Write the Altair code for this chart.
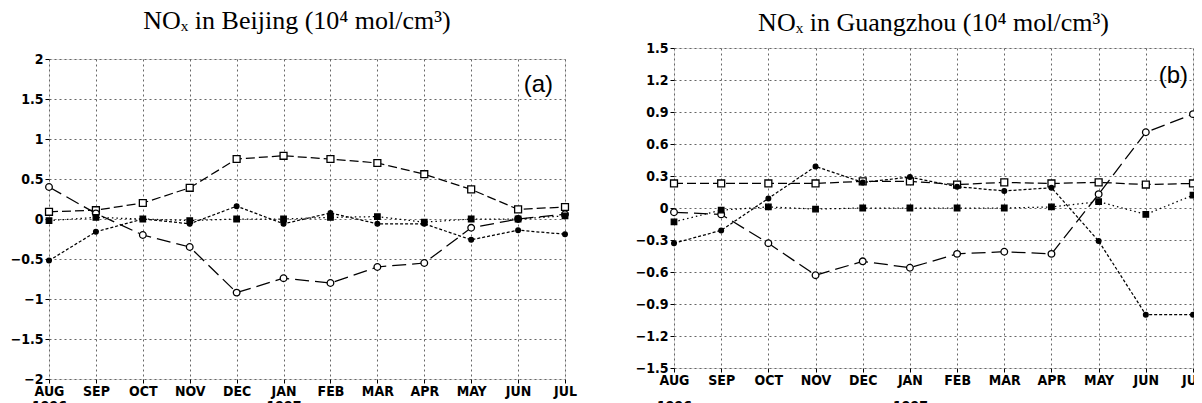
import altair as alt
import pandas as pd

months = ["AUG", "SEP", "OCT", "NOV", "DEC", "JAN", "FEB", "MAR", "APR", "MAY", "JUN", "JUL"]
years = {"AUG": "1996", "JAN": "1997"}

# Beijing
bj_open_sq = [0.09, 0.11, 0.20, 0.39, 0.75, 0.79, 0.75, 0.70, 0.56, 0.37, 0.12, 0.15]
bj_open_ci = [0.40, 0.07, -0.20, -0.35, -0.92, -0.74, -0.80, -0.60, -0.55, -0.11, 0.00, 0.06]
bj_fill_ci = [-0.52, -0.16, 0.00, -0.06, 0.16, -0.06, 0.075, -0.06, -0.06, -0.26, -0.14, -0.19]
bj_fill_sq = [-0.02, 0.02, 0.00, -0.02, 0.00, 0.00, 0.02, 0.03, -0.04, 0.00, 0.00, 0.04]

# Guangzhou
gz_open_sq = [0.23, 0.23, 0.23, 0.23, 0.25, 0.25, 0.22, 0.24, 0.23, 0.24, 0.22, 0.23]
gz_open_ci = [-0.04, -0.06, -0.33, -0.63, -0.50, -0.56, -0.43, -0.41, -0.43, 0.13, 0.71, 0.88]
gz_fill_ci = [-0.33, -0.21, 0.09, 0.39, 0.24, 0.29, 0.20, 0.16, 0.19, -0.31, -1.00, -1.00]
gz_fill_sq = [-0.13, -0.02, 0.01, -0.01, 0.00, 0.00, 0.00, 0.00, 0.01, 0.06, -0.06, 0.12]

bj_ticks = [-2, -1.5, -1, -0.5, 0, 0.5, 1, 1.5, 2]
gz_ticks = [-1.5, -1.2, -0.9, -0.6, -0.3, 0, 0.3, 0.6, 0.9, 1.2, 1.5]

bj_title = "NOₓ in Beijing (10⁴ mol/cm³)"
gz_title = "NOₓ in Guangzhou (10⁴ mol/cm³)"

AXFONT = "DejaVu Sans Condensed"

styles = {
    "open_sq": dict(shape="square", fill="white", size=48, dash=[9, 4]),
    "open_ci": dict(shape="circle", fill="white", size=44, dash=[14, 6]),
    "fill_ci": dict(shape="circle", fill="black", size=22, dash=[3, 2]),
    "fill_sq": dict(shape="square", fill="black", size=30, dash=[1.5, 3]),
}

label_expr = " : ".join(
    [f"datum.value == '{m}' ? ['{m}', '{y}']" for m, y in years.items()]
) + " : datum.value"


def title_params(text, offset, dx):
    return alt.TitleParams(
        text, font="Liberation Serif", fontSize=26, fontWeight="normal",
        color="black", offset=offset, anchor="middle", dx=dx,
    )


def panel(series, ydom, yticks, tag, tag_y, tag_dx, width, height, line_h, title=None):
    rows = []
    for key, vals in series.items():
        for m, v in zip(months, vals):
            rows.append({"month": m, "value": v, "series": key})
    df = pd.DataFrame(rows)

    x_enc = alt.X(
        "month:N",
        sort=months,
        scale=alt.Scale(type="point", padding=0),
        axis=alt.Axis(
            title=None, labelAngle=0, labelExpr=label_expr,
            labelFont=AXFONT, labelFontSize=14, labelFontWeight="bold", labelColor="black",
            labelPadding=1, labelLineHeight=line_h,
            tickColor="black", tickSize=4, domain=False,
            grid=True, gridDash=[2, 3], gridColor="#666", gridWidth=1,
        ),
    )
    y_enc = alt.Y(
        "value:Q",
        scale=alt.Scale(domain=ydom, nice=False, zero=False),
        axis=alt.Axis(
            title=None, values=yticks, format="~g",
            labelFont=AXFONT, labelFontSize=14, labelFontWeight="bold", labelColor="black",
            labelPadding=2, tickColor="black", tickSize=4, domain=False,
            grid=True, gridDash=[2, 3], gridColor="#666", gridWidth=1,
        ),
    )

    base = alt.Chart(df).encode(x=x_enc, y=y_enc)
    layers = []
    for key, st in styles.items():
        sub = base.transform_filter(alt.datum.series == key)
        layers.append(sub.mark_line(color="black", strokeWidth=1.25, strokeDash=st["dash"]))
    for key, st in styles.items():
        sub = base.transform_filter(alt.datum.series == key)
        layers.append(
            sub.mark_point(
                shape=st["shape"], filled=True, fill=st["fill"], stroke="black",
                strokeWidth=1.3, size=st["size"], opacity=1,
            )
        )
    tag_df = pd.DataFrame({"month": ["JUL"], "value": [tag_y], "t": [tag]})
    layers.append(
        alt.Chart(tag_df).mark_text(
            align="right", baseline="middle", dx=tag_dx,
            font="Liberation Sans", fontSize=24, color="black",
        ).encode(x=x_enc, y=y_enc, text="t:N")
    )
    props = dict(width=width, height=height)
    if title is not None:
        props["title"] = title
    return alt.layer(*layers).properties(**props)


left = panel(
    {"open_sq": bj_open_sq, "open_ci": bj_open_ci, "fill_ci": bj_fill_ci, "fill_sq": bj_fill_sq},
    [-2, 2], bj_ticks, "(a)", 1.67, -12, 516, 320, 15,
)
right = panel(
    {"open_sq": gz_open_sq, "open_ci": gz_open_ci, "fill_ci": gz_fill_ci, "fill_sq": gz_fill_sq},
    [-1.5, 1.5], gz_ticks, "(b)", 1.24, -5, 519, 320, 26,
    title=title_params(gz_title, 5, 0),
)

# invisible strip above the left panel: carries its title and lowers it a little
spacer = (
    alt.Chart(pd.DataFrame({"s": [0]}))
    .mark_point(opacity=0)
    .encode(x=alt.value(0), y=alt.value(0))
    .properties(
        width=516, height=2,
        view=alt.ViewBackground(strokeOpacity=0),
        title=title_params(bj_title, 11, -10),
    )
)

left_col = alt.vconcat(spacer, left, spacing=0)

chart = (
    alt.hconcat(left_col, right, spacing=57)
    .properties(padding={"left": 1, "top": 0, "right": -11, "bottom": 0})
    .configure_view(stroke="black", strokeWidth=2)
    .configure(background="white")
)

chart.save("out.html", embed_options={"renderer": "svg", "actions": False})
